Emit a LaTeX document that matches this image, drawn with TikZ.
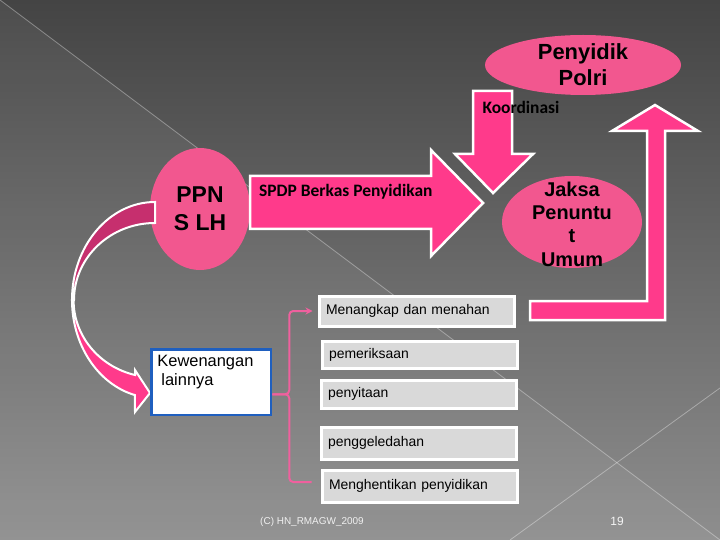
\documentclass[tikz,border=0pt]{standalone}
\usepackage{fontspec}
\setmainfont{Liberation Sans}
\newfontfamily\calibrifont{Carlito}
\usetikzlibrary{arrows.meta,shapes.geometric,positioning}
\definecolor{bgtop}{HTML}{444444}
\definecolor{bgbottom}{HTML}{8E8E8E}
\definecolor{blobpink}{HTML}{F2578F}
\definecolor{arrowpink}{HTML}{FF3A8B}
\definecolor{bandpink}{HTML}{C62F6E}
\definecolor{bracketpink}{HTML}{F0609E}
\definecolor{itemgray}{HTML}{D9D9D9}
\definecolor{kewblue}{HTML}{1F5FBF}

\begin{document}
\begin{tikzpicture}[x=1bp,y=-1bp,
    blob/.style={ellipse,fill=blobpink,inner sep=0pt},
    blobtext/.style={align=center,inner sep=0pt,text=black},
    blockarrow/.style={fill=arrowpink,draw=white,line width=2.5bp,line join=miter},
    itembox/.style={draw=white,line width=3bp,fill=itemgray,anchor=north west,
        minimum width=195bp,text width=181bp,inner xsep=7bp,inner ysep=0pt,
        align=left,minimum height=#1,font=\fontsize{14}{16}\selectfont},
    bracketline/.style={draw=bracketpink,line width=2bp,rounded corners=4bp}]
    \useasboundingbox (0,0) rectangle (720,540);

    % Background with the two thin diagonals
    \shade[top color=bgtop,bottom color=bgbottom] (0,0) rectangle (720,540);
    \fill[white,opacity=0.05] (0,0) -- (720,540) -- (0,540) -- cycle;
    \draw[white,opacity=0.35,line width=0.8bp] (0,0) -- (720,540);
    \draw[white,opacity=0.35,line width=0.8bp] (720,388) -- (510,540);

    % Ellipses
    \node[blob,minimum width=100bp,minimum height=122bp] (ppn) at (200,209) {};
    \node[blob,minimum width=196bp,minimum height=60bp] (polri) at (583,65) {};
    \node[blob,minimum width=140bp,minimum height=92bp] (jaksa) at (572,222) {};

    % Arrow SPDP
    \draw[blockarrow] (250,176) -- (431,176) -- (431,150) -- (483,203)
        -- (431,256) -- (431,229) -- (250,229) -- cycle;

    % Arrow Koordinasi
    \draw[blockarrow] (473,91) -- (512,91) -- (512,154) -- (533,154)
        -- (493,193) -- (455,154) -- (473,154) -- cycle;

    % Arrow back up to Penyidik Polri
    \draw[blockarrow] (530,301) -- (647,301) -- (647,131) -- (612,131)
        -- (655,105) -- (698,131) -- (665,131) -- (665,320) -- (530,320) -- cycle;

    % Curved arrow from PPN down to Kewenangan
    \draw[fill=bandpink,draw=white,line width=2bp]
        (155,202) arc[start angle=-90,end angle=-180,x radius=83,y radius=98]
        -- (74,300) arc[start angle=180,end angle=270,x radius=81,y radius=77] -- cycle;
    \draw[blockarrow,line width=2bp]
        (72,300) arc[start angle=180,end angle=104,x radius=83,y radius=98]
        -- (135,412) -- (150,393) -- (135,370) -- (135,375)
        arc[start angle=104,end angle=180,x radius=81,y radius=77] -- cycle;

    % Texts
    \node[blobtext,font=\fontsize{23}{28}\selectfont\bfseries] (ppn-text) at (ppn.center) {PPN\\S LH};
    \node[blobtext,font=\fontsize{22}{26}\selectfont\bfseries] (polri-text) at (polri.center) {Penyidik\\Polri};
    \node[blobtext,font=\fontsize{20}{23.5}\selectfont\bfseries] (jaksa-text) at ([yshift=-2bp]jaksa.center) {Jaksa\\Penuntu\\t\\Umum};
    \node[inner sep=0pt,anchor=west,font=\calibrifont\fontsize{17.5}{19}\selectfont\bfseries] (spdp) at (259,192) {SPDP Berkas Penyidikan};
    \node[inner sep=0pt,font=\calibrifont\fontsize{17.5}{19}\selectfont\bfseries] (koord) at (521,107) {Koordinasi};

    % Kewenangan lainnya
    \node[draw=kewblue,fill=white,line width=2.5bp,anchor=north west,
        minimum width=119.5bp,minimum height=65.5bp] (kew) at (150.25,348.25) {};
    \node[inner sep=0pt,anchor=north west,align=left,font=\fontsize{16.5}{19}\selectfont]
        (kew-text) at ([xshift=7bp,yshift=-7bp]kew.north west) {Kewenangan\\\hspace*{4bp}lainnya};

    % List of powers
    \node[itembox=30bp] (menangkap) at (317.5,294.5) {Menangkap dan menahan};
    \node[itembox=27bp] (periksa) at (320.5,339.5) {pemeriksaan};
    \node[itembox=28bp] (sita) at (319.5,378.5) {penyitaan};
    \node[itembox=32bp] (geledah) at (319.5,425.5) {penggeledahan};
    \node[itembox=32bp] (henti) at (320.5,468.5) {Menghentikan penyidikan};

    % Bracket
    \draw[bracketline,-{Stealth[length=7bp,width=7bp]}]
        ([yshift=-12bp]kew.east) -- ++(17,0) |- ([xshift=-5bp]menangkap.west);
    \draw[bracketline] ([yshift=-12bp]kew.east) -- ++(17,0) |- ([xshift=-9bp,yshift=4bp]henti.west);

    % Footer
    \node[text=white!88!gray,font=\fontsize{10}{12}\selectfont] (copy) at (312,522) {(C) HN\_RMAGW\_2009};
    \node[text=white!92!gray,font=\fontsize{12}{14}\selectfont] (page) at (617,521) {19};
\end{tikzpicture}
\end{document}
